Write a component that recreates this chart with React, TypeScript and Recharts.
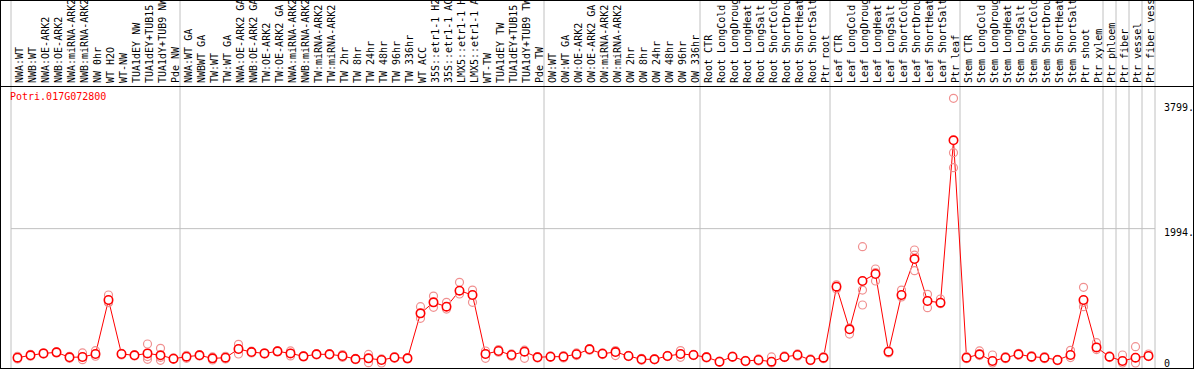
import { ComposedChart, Line, XAxis, YAxis, ReferenceLine } from "recharts";

const geneId = "Potri.017G072800";

const categories = [
  "NWA:WT", "NWB:WT", "NWA:OE-ARK2", "NWB:OE-ARK2", "NWA:miRNA-ARK2", "NWB:miRNA-ARK2",
  "NW 0hr", "WT H2O", "WT-NW", "TUA1dEY NW", "TUA1dEY+TUB15 NW", "TUA1dY+TUB9 NW", "Pde NW",
  "NWA:WT GA", "NWBWT GA", "TW:WT", "TW:WT GA", "NWA:OE-ARK2 GA", "NWB:OE-ARK2 GA",
  "TW:OE-ARK2", "TW:OE-ARK2 GA", "NWA:miRNA-ARK2 GA", "NWB:miRNA-ARK2 GA", "TW:miRNA-ARK2",
  "TW:miRNA-ARK2", "TW 2hr", "TW 8hr", "TW 24hr", "TW 48hr", "TW 96hr", "TW 336hr", "WT ACC",
  "35S::etr1-1 H2O", "35S::etr1-1 ACC", "LMX5::etr1-1 H2O", "LMX5::etr1-1 ACC", "WT-TW",
  "TUA1dEY TW", "TUA1dEY+TUB15 TW", "TUA1dY+TUB9 TW", "Pde TW",
  "OW:WT", "OW:WT GA", "OW:OE-ARK2", "OW:OE-ARK2 GA", "OW:miRNA-ARK2", "OW:miRNA-ARK2",
  "OW 2hr", "OW 8hr", "OW 24hr", "OW 48hr", "OW 96hr", "OW 336hr",
  "Root CTR", "Root LongCold", "Root LongDrought", "Root LongHeat", "Root LongSalt",
  "Root ShortCold", "Root ShortDrought", "Root ShortHeat", "Root ShortSalt", "Ptr root",
  "Leaf CTR", "Leaf LongCold", "Leaf LongDrought", "Leaf LongHeat", "Leaf LongSalt",
  "Leaf ShortCold", "Leaf ShortDrought", "Leaf ShortHeat", "Leaf ShortSalt", "Ptr leaf",
  "Stem CTR", "Stem LongCold", "Stem LongDrought", "Stem LongHeat", "Stem LongSalt",
  "Stem ShortCold", "Stem ShortDrought", "Stem ShortHeat", "Stem ShortSalt", "Ptr shoot",
  "Ptr xylem", "Ptr phloem", "Ptr fiber", "Ptr vessel", "Ptr fiber vessel",
];

const means = [
  79, 114, 143, 158, 85, 89, 134, 935, 134, 114, 143, 114, 64,
  94, 114, 69, 79, 208, 163, 143, 173, 143, 99, 129, 129, 104, 59, 69, 45, 82, 69, 737,
  900, 836, 1073, 1009, 134, 178, 119, 168, 85,
  94, 94, 131, 203, 138, 163, 104, 55, 55, 104, 134, 119,
  85, 20, 94, 30, 45, 20, 90, 119, 45, 79,
  1133, 500, 1217, 1321, 168, 1009, 1543, 920, 895, 3305,
  79, 129, 30, 79, 129, 94, 79, 45, 119, 935, 232,
  94, 30, 79, 104,
];

const rep1 = [
  60, 100, 135, 150, 70, 150, 183, 1009, 134, 114, 282, 218, 64,
  94, 114, 69, 79, 277, 163, 143, 173, 143, 99, 129, 129, 104, 59, 128, 45, 82, 69, 836,
  994, 900, 1197, 1083, 178, 178, 119, 168, 85,
  94, 94, 131, 203, 138, 163, 104, 55, 55, 104, 185, 119,
  85, 20, 94, 30, 45, 20, 90, 119, 45, 79,
  1133, 500, 1726, 1395, 168, 1083, 1677, 1019, 950, 3928,
  79, 129, 119, 79, 129, 94, 79, 45, 188, 1123, 302,
  94, 119, 242, 134,
];

const rep2 = [
  100, 130, 150, 165, 100, 50, 100, 900, 120, 105, 55, 40, 55,
  70, 105, 45, 60, 134, 150, 135, 165, 180, 90, 120, 120, 85, 50, 5, 0, 70, 60, 663,
  826, 836, 1024, 900, 69, 160, 100, 69, 75,
  85, 75, 110, 190, 125, 110, 95, 40, 48, 95, 85, 110,
  75, 10, 85, 20, 30, 90, 80, 100, 35, 65,
  1160, 430, 1083, 1217, 150, 1009, 1370, 821, 880, 3121,
  65, 180, 0, 65, 115, 80, 65, 35, 80, 836, 200,
  80, 0, 0, 95,
];

const rep3 = [
  79, 114, 143, 158, 85, 89, 134, 895, 145, 120, 95, 85, 75,
  115, 125, 90, 100, 208, 175, 150, 180, 105, 108, 138, 138, 125, 68, 69, 60, 95, 78, 737,
  900, 800, 1073, 1009, 134, 200, 135, 190, 95,
  105, 110, 150, 215, 150, 185, 112, 70, 62, 112, 134, 128,
  95, 30, 103, 40, 60, 0, 105, 135, 60, 95,
  1100, 520, 861, 1340, 180, 980, 1600, 920, 895, 2898,
  95, 110, 30, 95, 145, 110, 95, 55, 119, 900, 232,
  105, 30, 79, 104,
];

const groupBounds = [0, 13, 41, 53, 63, 73, 84, 85, 86, 87, 88];
const yTicks = [0, 1994, 3799];

const rows = categories.map((name, i) => ({
  x: i + 0.5,
  name,
  mean: means[i],
  r1: rep1[i],
  r2: rep2[i],
  r3: rep3[i],
}));

const tickCenters = rows.map((r) => r.x);

const FONT = "'DejaVu Sans Mono', monospace";

const CategoryTick = (props: any) => {
  const { x, payload } = props;
  const i = Math.floor(payload.value);
  const bx = x + 5;
  return (
    <text
      x={bx}
      y={83}
      transform={`rotate(-90 ${bx} 83)`}
      fontSize={10}
      fontFamily={FONT}
      fill="#000"
      textAnchor="start"
    >
      {categories[i]}
    </text>
  );
};

const ValueTick = (props: any) => {
  const { y, payload } = props;
  const v = Number(payload.value);
  return (
    <text
      x={1164}
      y={y + (v === 1994 ? 4 : 0)}
      fontSize={10}
      fontFamily={FONT}
      fill="#000"
      dominantBaseline="central"
    >
      {v === 0 ? "0" : `${v}.`}
    </text>
  );
};

const RepDot = (props: any) => {
  const { cx, cy, index } = props;
  if (cx == null || cy == null) return <g key={`r-${index}`} />;
  return (
    <circle key={`r-${props.dataKey}-${index}`} cx={cx} cy={cy} r={4} fill="none" stroke="#f09090" strokeWidth={1.2} />
  );
};

const MeanDot = (props: any) => {
  const { cx, cy, index } = props;
  return (
    <circle key={`m-${index}`} cx={cx} cy={cy} r={4.2} fill="#fff" stroke="#ff0000" strokeWidth={1.6} />
  );
};

export default function App() {
  return (
    <div style={{ position: "absolute", left: 0, top: 0, width: 1194, height: 370, background: "#fff" }}>
      <ComposedChart
        width={1194}
        height={370}
        data={rows}
        margin={{ top: 0, right: 0, bottom: 2, left: 11 }}
      >
        <XAxis
          xAxisId="c"
          dataKey="x"
          type="number"
          domain={[0, 88]}
          orientation="top"
          height={1}
          ticks={tickCenters}
          interval={0}
          tick={<CategoryTick />}
          tickLine={false}
          axisLine={false}
          allowDataOverflow
        />
        <YAxis
          yAxisId="v"
          orientation="right"
          type="number"
          domain={[-74, 5372]}
          ticks={yTicks}
          interval={0}
          width={39}
          tick={<ValueTick />}
          tickLine={false}
          axisLine={false}
          allowDataOverflow
        />

        {groupBounds.map((b) => (
          <ReferenceLine key={`b-${b}`} xAxisId="c" yAxisId="v" x={b} stroke="#c0c0c0" strokeWidth={1} />
        ))}
        <ReferenceLine xAxisId="c" yAxisId="v" y={1994} stroke="#c0c0c0" strokeWidth={1} />

        {["r1", "r2", "r3"].map((k) => (
          <Line
            key={k}
            xAxisId="c"
            yAxisId="v"
            dataKey={k}
            stroke="none"
            dot={<RepDot dataKey={k} />}
            activeDot={false}
            isAnimationActive={false}
          />
        ))}
        <Line
          xAxisId="c"
          yAxisId="v"
          dataKey="mean"
          type="linear"
          stroke="#ff0000"
          strokeWidth={1}
          dot={<MeanDot />}
          activeDot={false}
          isAnimationActive={false}
        />
      </ComposedChart>
      <div
        style={{
          position: "absolute",
          left: 0,
          top: 86,
          width: 1194,
          height: 1,
          background: "#000",
          pointerEvents: "none",
        }}
      />
      <div
        style={{
          position: "absolute",
          left: 10,
          top: 92,
          fontFamily: FONT,
          fontSize: 10,
          lineHeight: "10px",
          color: "#ff0000",
        }}
      >
        {geneId}
      </div>
      <div
        style={{
          position: "absolute",
          left: 0,
          top: 0,
          width: 1194,
          height: 369,
          boxSizing: "border-box",
          border: "1px solid #000",
          pointerEvents: "none",
        }}
      />
    </div>
  );
}
